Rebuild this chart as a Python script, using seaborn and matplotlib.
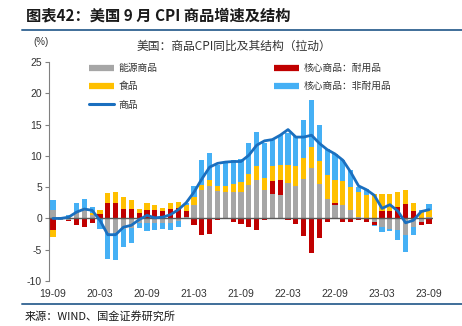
import numpy as np
import pandas as pd
import matplotlib
matplotlib.use("Agg")
import matplotlib.pyplot as plt
from matplotlib.lines import Line2D
import seaborn as sns

months = ["19-09","19-10","19-11","19-12","20-01","20-02","20-03","20-04","20-05","20-06","20-07","20-08",
          "20-09","20-10","20-11","20-12","21-01","21-02","21-03","21-04","21-05","21-06","21-07","21-08",
          "21-09","21-10","21-11","21-12","22-01","22-02","22-03","22-04","22-05","22-06","22-07","22-08",
          "22-09","22-10","22-11","22-12","23-01","23-02","23-03","23-04","23-05","23-06","23-07","23-08","23-09"]

energy = [1.4, -0.2, -0.2, 0.9, 1.3, 0.5, -0.1, -2.4, -2.4, -1.7, -1.5, -0.8, -0.8, -0.8, -0.8, -0.7, -0.4, 0.3,
          2.2, 4.6, 5.2, 4.4, 4.2, 4.3, 4.3, 5.3, 6.2, 4.5, 3.9, 3.8, 5.7, 5.2, 6.3, 8.1, 5.5, 3.1,
          2.2, 2.1, 1.3, 0.3, 0.1, -0.5, -1.4, -1.7, -1.9, -2.7, -1.4, -0.5, 0.3]
durable = [-1.9, -0.1, -0.2, -1.0, -1.3, -0.7, 0.7, 2.4, 2.4, 1.5, 1.5, 0.9, 1.4, 1.3, 1.2, 1.5, 1.7, 0.9,
           -1.1, -2.6, -2.5, -0.2, -0.1, -0.6, -0.9, -1.4, -1.8, -0.2, 2.1, 2.3, -0.2, -0.9, -2.8, -5.5, -3.1, -0.6,
           0.2, -0.6, -0.6, -0.3, -0.6, -0.6, 1.2, 1.2, 1.8, 2.3, 1.2, -0.5, -0.9]
food = [-1.1, 0.1, 0.4, 0.2, 0.4, 0.3, 0.6, 1.6, 1.8, 1.9, 1.5, 0.6, 1.0, 0.9, 0.5, 1.0, 1.0, 1.0,
        1.3, 0.8, 0.9, 0.8, 1.0, 1.2, 1.5, 1.8, 2.2, 2.0, 2.3, 2.5, 2.8, 3.2, 3.4, 3.3, 3.6, 3.8,
        3.8, 3.9, 3.7, 4.0, 3.7, 3.9, 2.7, 2.7, 2.4, 2.2, 1.3, 1.0, 1.0]
nondurable = [1.6, 0.2, 0.2, 1.4, 1.4, 1.0, -1.6, -4.1, -4.3, -2.9, -2.5, -0.8, -1.2, -1.1, -0.9, -1.1, -1.0, 0.3,
              1.7, 3.9, 4.4, 3.4, 3.8, 3.9, 3.7, 5.0, 5.4, 5.5, 4.2, 4.7, 5.2, 4.7, 6.1, 7.6, 5.9, 4.2,
              4.1, 3.3, 2.7, 0.8, 0.9, -0.1, -0.8, -0.3, -1.5, -2.7, -1.3, 0.4, 1.0]
goods = [0.0, 0.0, 0.2, 1.0, 1.5, 1.3, -0.3, -2.6, -2.6, -1.4, -1.1, -0.2, 0.5, 0.1, 0.2, 0.6, 1.4, 2.5,
         4.2, 6.3, 8.2, 8.8, 9.0, 9.1, 9.1, 10.1, 11.7, 12.4, 12.6, 13.3, 14.2, 13.0, 13.0, 13.3, 12.0, 11.0,
         10.3, 9.3, 7.4, 5.2, 4.6, 3.7, 1.6, 2.2, 1.2, -0.7, -0.3, 1.1, 1.4]

series_names = ["能源商品", "核心商品：耐用品", "食品", "核心商品：非耐用品"]
series_vals = [energy, durable, food, nondurable]
series_colors = ["#A6A6A6", "#C00000", "#FFC000", "#45B0F5"]
line_name = "商品"
line_color = "#1A6FBF"
tick_labels = ["19-09", "20-03", "20-09", "21-03", "21-09", "22-03", "22-09", "23-03", "23-09"]

sns.set_theme(style="white")
plt.rcParams['font.family'] = ['Noto Sans CJK SC', 'DejaVu Sans']
plt.rcParams['axes.unicode_minus'] = False

W, H = 462, 326
fig = plt.figure(figsize=(W / 100, H / 100), dpi=100)
ax = fig.add_axes([49 / W, 1 - 281 / H, (433 - 49) / W, (281 - 62) / H])

n = len(months)
pos_idx = np.arange(n)
pos_base = np.zeros(n)
neg_base = np.zeros(n)
for name, vals, col in zip(series_names, series_vals, series_colors):
    v = np.array(vals, dtype=float)
    bottoms = np.where(v >= 0, pos_base, neg_base)
    df = pd.DataFrame({"m": pos_idx, "v": v})
    sns.barplot(data=df, x="m", y="v", color=col, saturation=1, width=0.66,
                errorbar=None, bottom=bottoms, ax=ax, linewidth=0, order=list(pos_idx))
    pos_base = pos_base + np.where(v >= 0, v, 0)
    neg_base = neg_base + np.where(v < 0, v, 0)

ax.axhline(0, color="#595959", lw=1.0, zorder=3)
ldf = pd.DataFrame({"m": pos_idx, "v": goods})
sns.lineplot(data=ldf, x="m", y="v", color=line_color, lw=2.0, ax=ax, zorder=4)

ax.set_xlim(-0.5, n - 0.5)
ax.set_ylim(-10, 25)
ax.set_yticks([-10, -5, 0, 5, 10, 15, 20, 25])
ax.set_xticks(list(range(0, n, 6)))
ax.set_xticklabels(tick_labels)
ax.set_xlabel("")
ax.set_ylabel("")
for lab in ax.get_xticklabels() + ax.get_yticklabels():
    lab.set_fontfamily(['Liberation Sans', 'DejaVu Sans'])
    lab.set_fontsize(7.5)
    lab.set_color("#333333")
ax.tick_params(axis="y", which="major", direction="out", length=3, width=0.8, color="#808080", pad=2, left=True)
ax.tick_params(axis="x", length=0, pad=6)
for s in ["top", "right", "bottom"]:
    ax.spines[s].set_visible(False)
ax.spines["left"].set_color("#808080")
ax.spines["left"].set_linewidth(0.8)
ax.grid(False)

# legends
h_e = Line2D([], [], color=series_colors[0], lw=4.5, solid_capstyle="butt")
h_d = Line2D([], [], color=series_colors[1], lw=4.5, solid_capstyle="butt")
h_f = Line2D([], [], color=series_colors[2], lw=4.5, solid_capstyle="butt")
h_n = Line2D([], [], color=series_colors[3], lw=4.5, solid_capstyle="butt")
h_l = Line2D([], [], color=line_color, lw=2.2)
leg_kw = dict(frameon=False, fontsize=7, handlelength=2.6, handletextpad=0.45, labelspacing=0.85,
              borderpad=0, borderaxespad=0, loc="upper left")
leg1 = fig.legend([h_e, h_f, h_l], ["能源商品", "食品", line_name],
                  bbox_to_anchor=(89 / W, 1 - 63 / H), **leg_kw)
leg2 = fig.legend([h_d, h_n], ["核心商品：耐用品", "核心商品：非耐用品"],
                  bbox_to_anchor=(274 / W, 1 - 63 / H), **leg_kw)
for t in leg1.get_texts() + leg2.get_texts():
    t.set_color("#333333")

# header / footer
fig.text(26 / W, 1 - 15 / H, "图表42：美国 9 月 CPI 商品增速及结构", fontsize=11, fontweight="bold",
         style="italic", color="#1a1a1a", va="center", ha="left")
fig.add_artist(Line2D([22 / W, 1.0], [1 - 29.5 / H, 1 - 29.5 / H], color="#3F6E99", lw=1.4))
fig.text(41 / W, 1 - 42 / H, "(%)", fontsize=7, color="#333333", ha="center", va="center",
         family=['Liberation Sans', 'DejaVu Sans'])
fig.text(234 / W, 1 - 46 / H, "美国：商品CPI同比及其结构（拉动）", fontsize=8.5, color="#333333",
         ha="center", va="center")
fig.add_artist(Line2D([22 / W, 1.0], [1 - 304 / H, 1 - 304 / H], color="#3F6E99", lw=1.4))
fig.text(25 / W, 1 - 316 / H, "来源：WIND、国金证券研究所", fontsize=8, color="#1a1a1a",
         ha="left", va="center")

fig.savefig("out.png", dpi=100)
